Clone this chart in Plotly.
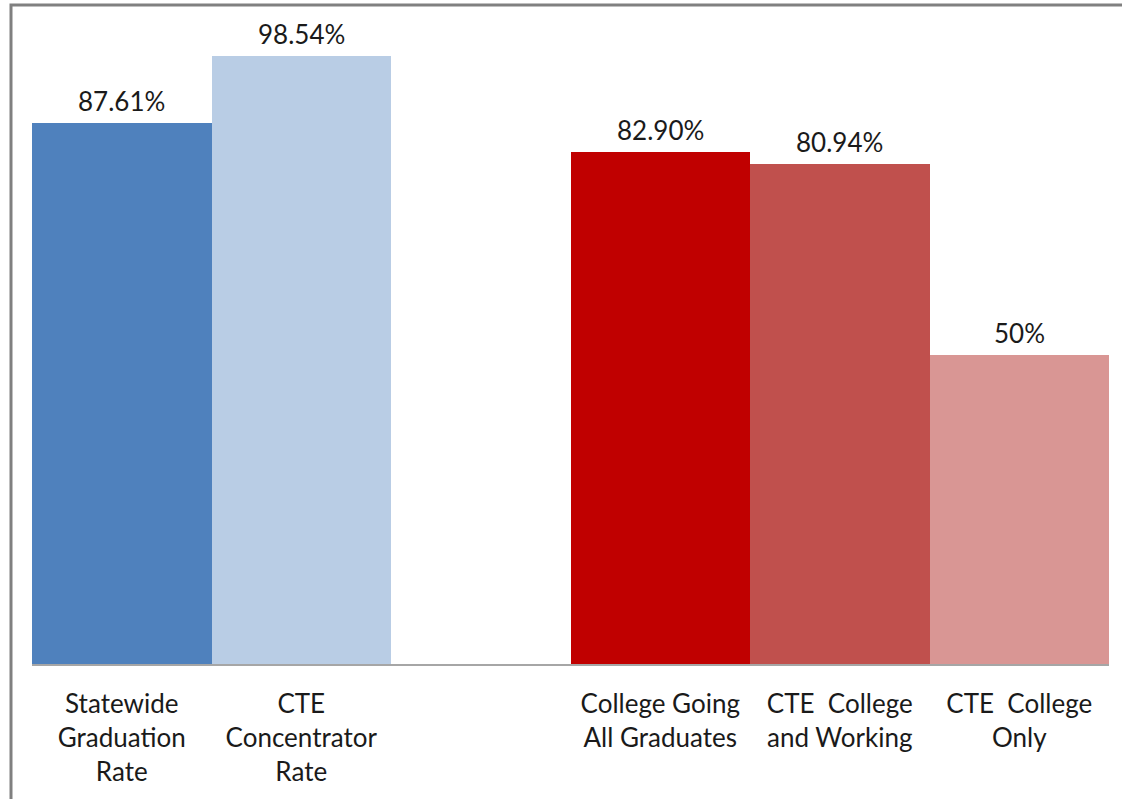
import plotly.graph_objects as go

# Category labels (slot 2 is an intentional gap between the two groups)
categories = [
    "Statewide<br>Graduation<br>Rate",
    "CTE<br>Concentrator<br>Rate",
    "",
    "College Going<br>All Graduates",
    "CTE  College<br>and Working",
    "CTE  College<br>Only",
]
positions = [0, 1, 2, 3, 4, 5]
values = [87.61, 98.54, None, 82.90, 80.94, 50]
value_labels = ["87.61%", "98.54%", "", "82.90%", "80.94%", "50%"]
bar_colors = ["#4F81BD", "#B9CDE5", "#FFFFFF", "#C00000", "#C0504D", "#D99694"]

FONT = "Lato, 'Open Sans', sans-serif"
TEXT_COLOR = "#1a1a1a"
FONT_SIZE = 26

fig = go.Figure()
fig.add_trace(
    go.Bar(
        x=positions,
        y=values,
        marker=dict(color=bar_colors, line=dict(width=0)),
        hoverinfo="skip",
    )
)

# Value labels above each bar
for xpos, val, lab in zip(positions, values, value_labels):
    if val is None:
        continue
    fig.add_annotation(
        x=xpos, y=val, text=lab, showarrow=False,
        yanchor="bottom", yshift=4,
        font=dict(family=FONT, size=FONT_SIZE, color=TEXT_COLOR),
    )

# Outer frame (top and left edges visible)
fig.add_shape(
    type="rect", xref="paper", yref="paper",
    x0=-0.0195, x1=1.05, y0=-0.25, y1=1.0265,
    line=dict(color="#808080", width=3), fillcolor="rgba(0,0,0,0)",
    layer="below",
)

fig.update_layout(
    width=1122,
    height=799,
    margin=dict(l=32, r=13, t=22, b=130),
    paper_bgcolor="white",
    plot_bgcolor="white",
    bargap=0,
    showlegend=False,
    font=dict(family=FONT, size=FONT_SIZE, color=TEXT_COLOR),
    xaxis=dict(
        range=[-0.5, 5.5],
        tickmode="array",
        tickvals=[0, 1, 3, 4, 5],
        ticktext=[categories[i] for i in [0, 1, 3, 4, 5]],
        showgrid=False,
        zeroline=False,
        showline=True,
        linecolor="#A6A6A6",
        linewidth=2,
        ticks="outside",
        ticklen=16,
        tickcolor="rgba(0,0,0,0)",
        tickfont=dict(family=FONT, size=FONT_SIZE, color=TEXT_COLOR),
        fixedrange=True,
    ),
    yaxis=dict(
        range=[0, 104],
        visible=False,
        showgrid=False,
        zeroline=False,
        fixedrange=True,
    ),
)

fig.write_html("out.html")
